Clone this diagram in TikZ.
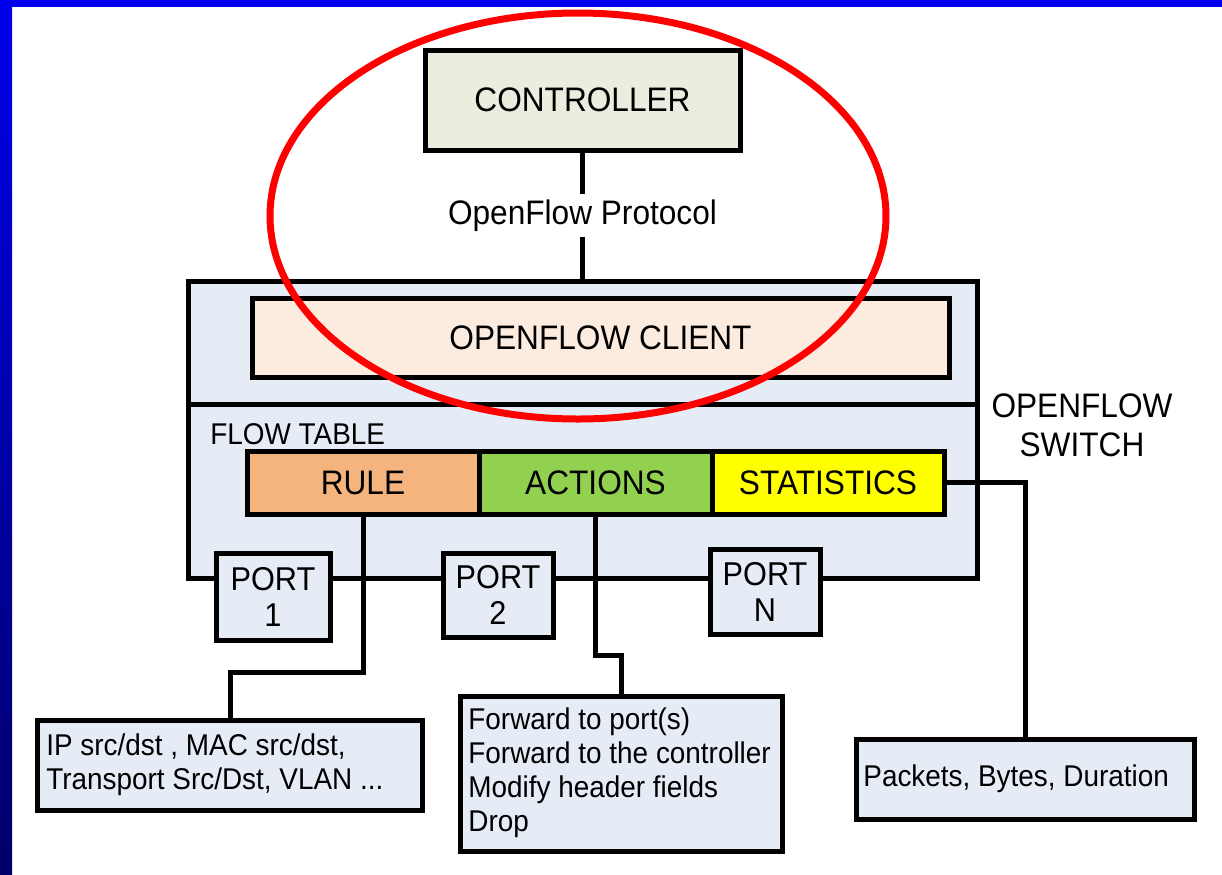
\documentclass[tikz,border=0pt]{standalone}
\usepackage{fontspec}
\setmainfont{Liberation Sans}[FakeStretch=0.93]
\definecolor{ctrlfill}{RGB}{234,238,222}
\definecolor{swfill}{RGB}{230,236,246}
\definecolor{clfill}{RGB}{252,236,224}
\definecolor{rulefill}{RGB}{245,180,125}
\definecolor{actfill}{RGB}{146,208,80}
\definecolor{statfill}{RGB}{255,255,0}
\definecolor{frametop}{RGB}{0,0,235}
\definecolor{framebot}{RGB}{0,0,105}
\definecolor{ringred}{RGB}{255,0,0}
\begin{document}
\begin{tikzpicture}[x=0.5pt,y=-0.5pt,
  box/.style={draw=black,line width=2.5pt,inner sep=0pt,outer sep=0pt,rectangle},
  big/.style={font=\fontsize{17}{19.5}\selectfont},
  portfont/.style={font=\fontsize{16.5}{18}\selectfont,align=center},
  mid/.style={font=\fontsize{15}{17}\selectfont,align=left,inner sep=0pt},
  wire/.style={draw=black,line width=2.5pt}]
\useasboundingbox (0,0) rectangle (1222,874);
\fill[white] (0,0) rectangle (1222,874);

% controller
\node[box,fill=ctrlfill,big,minimum width=157.5pt,minimum height=50pt] (ctrl) at (582.5,100) {CONTROLLER};

% switch
\node[box,fill=swfill,minimum width=394.5pt,minimum height=148.5pt] (switch) at (582.5,429.5) {};
\coordinate (divl) at (188,404);
\coordinate (divr) at (977,404);
\draw[wire] (divl) -- (divr);
\node[box,fill=clfill,big,minimum width=348.5pt,minimum height=39.5pt] (client) at (600.5,337.5) {OPENFLOW CLIENT};
\node[anchor=west,inner sep=0pt,font=\fontsize{15}{17}\selectfont] (ftlabel) at (210,434) {FLOW TABLE};
\node[box,fill=rulefill,big,minimum width=116pt,minimum height=31.5pt] (rule) at (363,482.5) {RULE};
\node[box,fill=actfill,big,minimum width=116.5pt,minimum height=31.5pt] (actions) at (595.5,482.5) {ACTIONS};
\node[box,fill=statfill,big,minimum width=116pt,minimum height=31.5pt] (stats) at (828,482.5) {STATISTICS};
\node[big,align=center] (swlabel) at (1082,425) {OPENFLOW\\SWITCH};

% ports
\node[box,fill=swfill,portfont,minimum width=57pt,minimum height=43.5pt] (port1) at (273,596.5) {PORT\\1};
\node[box,fill=swfill,portfont,minimum width=55pt,minimum height=42pt] (port2) at (498,595) {PORT\\2};
\node[box,fill=swfill,portfont,minimum width=55pt,minimum height=42.5pt] (portN) at (765,591.5) {PORT\\N};

% protocol link
\draw[wire] (ctrl.south) -- (switch.north)
  node[midway,fill=white,big,inner sep=3pt] (proto) {OpenFlow Protocol};

% bottom boxes
\node[box,fill=swfill,minimum width=192.5pt,minimum height=45pt] (ipbox) at (229.5,765) {};
\node[mid,anchor=west] (iptext) at (46,765) {IP src/dst , MAC src/dst,\\Transport Src/Dst, VLAN ...};
\node[box,fill=swfill,minimum width=161pt,minimum height=77.5pt] (actbox) at (621,773.5) {};
\node[mid,anchor=west] (acttext) at (468,773) {Forward to port(s)\\Forward to the controller\\Modify header fields\\Drop};
\node[box,fill=swfill,minimum width=169pt,minimum height=40pt] (statbox) at (1025,779) {};
\node[mid,anchor=west] (stattext) at (863,779) {Packets, Bytes, Duration};

% connectors
\coordinate (b1) at (230,672);
\draw[wire] (rule.south) |- (b1) -- (b1 |- ipbox.north);
\coordinate (b2) at (621,655);
\draw[wire] (actions.south) |- (b2) -- (b2 |- actbox.north);
\draw[wire] (stats.east) -| (statbox.north);

% red ring
\draw[ringred,line width=3.5pt] (578,216) ellipse [x radius=308, y radius=203];

% blue frame
\shade[top color=frametop,bottom color=framebot] (0,0) rectangle (12,874);
\fill[frametop] (0,0) rectangle (1222,7);
\end{tikzpicture}
\end{document}
